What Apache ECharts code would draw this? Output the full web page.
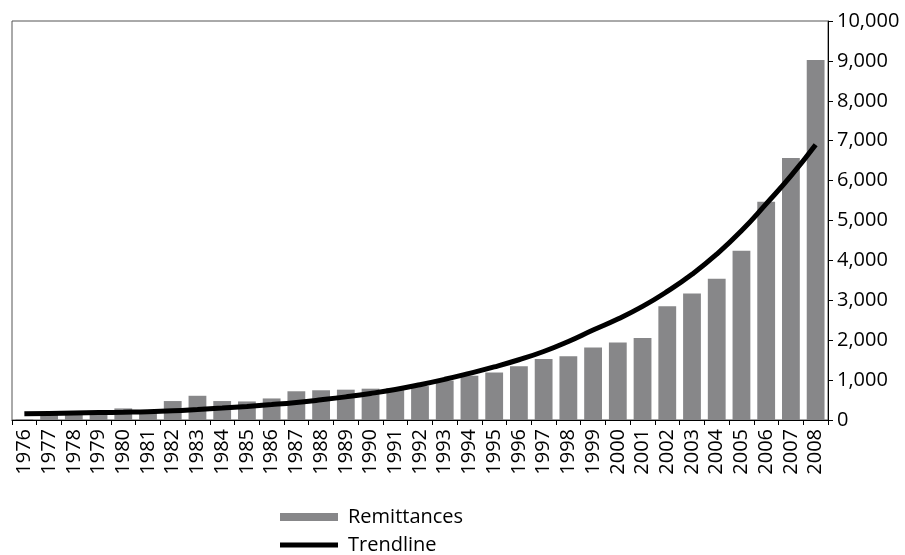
<!DOCTYPE html>
<html>
<head>
<meta charset="utf-8">
<script src="https://cdn.jsdelivr.net/npm/echarts@6/dist/echarts.min.js"></script>
<style>
html,body{margin:0;padding:0;background:#fff;}
#chart{width:905px;height:555px;}
</style>
</head>
<body>
<div id="chart"></div>
<script>
const years = ['1976','1977','1978','1979','1980','1981','1982','1983','1984','1985','1986',
  '1987','1988','1989','1990','1991','1992','1993','1994','1995','1996','1997','1998','1999',
  '2000','2001','2002','2003','2004','2005','2006','2007','2008'];
const remittances = [20,150,160,170,290,220,475,607,475,465,540,
  720,745,760,785,800,850,990,1110,1190,1350,1530,1595,1820,
  1945,2055,2850,3170,3540,4240,5470,6565,9025];
const trendline = [155,164,174,185,196,208,230,262,298,339,386,
  440,506,580,665,765,885,1020,1170,1330,1510,1717,1969,2255,
  2532,2847,3222,3652,4155,4741,5417,6118,6900];
const yTicks = {min:0, max:10000, interval:1000};

const FONT = 'Open Sans';
const chart = echarts.init(document.getElementById('chart'), null, {renderer:'canvas'});
const legendText = {fontFamily:FONT, fontSize:20, color:'#000', padding:[0,0,0,5]};
chart.setOption({
  animation:false,
  textStyle:{fontFamily:FONT, color:'#000'},
  grid:{left:12, right:77, top:21, bottom:135, show:true, borderColor:'#555', borderWidth:1},
  legend:[
    {left:280, top:507, padding:0, itemWidth:58, itemHeight:8, itemGap:10,
     textStyle:legendText, data:[{name:'Remittances', icon:'rect'}]},
    {left:280, top:535, padding:0, itemWidth:58, itemHeight:5, itemGap:10,
     textStyle:legendText, data:[{name:'Trendline', icon:'rect'}]}
  ],
  xAxis:{
    type:'category', data:years,
    axisLine:{lineStyle:{color:'#000', width:1}},
    axisTick:{show:true, interval:0, length:5, lineStyle:{color:'#000'}},
    axisLabel:{interval:0, rotate:90, fontSize:20, fontFamily:FONT, color:'#000', margin:9}
  },
  yAxis:{
    type:'value', position:'right', min:yTicks.min, max:yTicks.max, interval:yTicks.interval,
    splitLine:{show:false},
    axisLine:{show:true, lineStyle:{color:'#000', width:1}},
    axisTick:{show:true, length:5, lineStyle:{color:'#000'}},
    axisLabel:{fontSize:20, fontFamily:FONT, color:'#000', margin:9,
      formatter:v => v.toLocaleString('en-US')}
  },
  series:[
    {name:'Remittances', type:'bar', data:remittances, barCategoryGap:'28%',
     itemStyle:{color:'#878789'}},
    {name:'Trendline', type:'line', data:trendline, smooth:true, symbol:'none',
     lineStyle:{color:'#000', width:5}, itemStyle:{color:'#000'}, z:5}
  ]
});
</script>
</body>
</html>
